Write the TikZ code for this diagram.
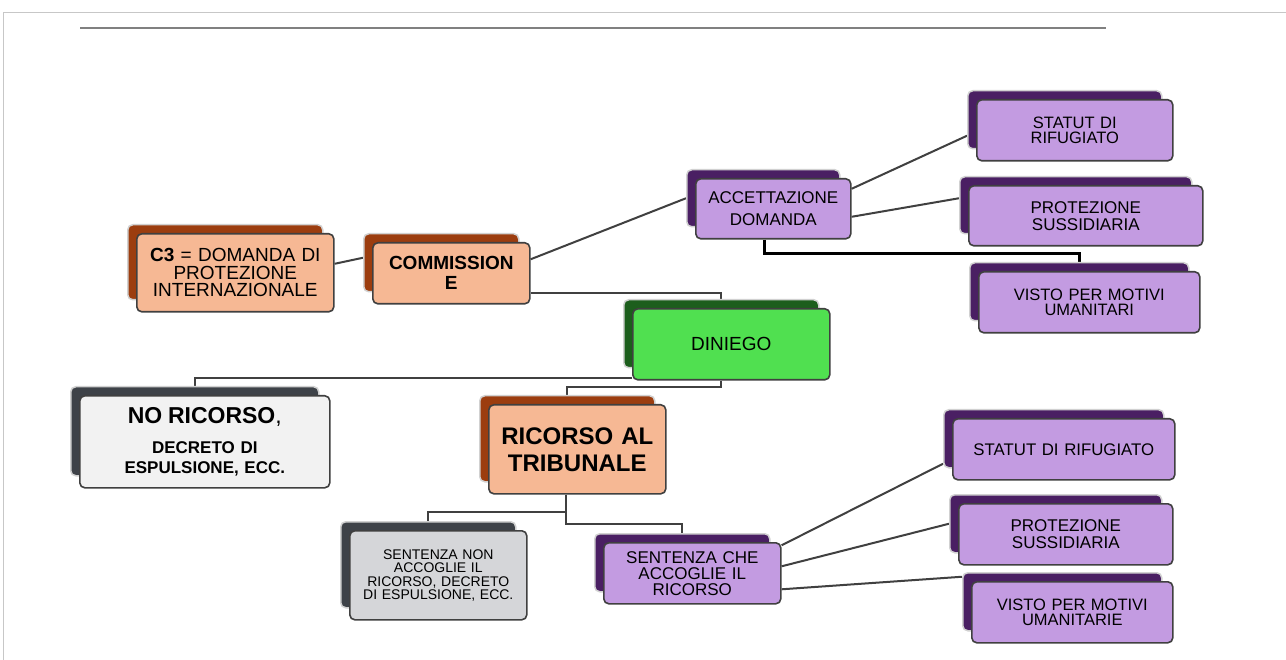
\documentclass[tikz,border=0pt]{standalone}
\usepackage{fontspec}
\setmainfont{Liberation Sans}
\usetikzlibrary{backgrounds,calc}
\definecolor{orB}{HTML}{9C3D0F}
\definecolor{orF}{HTML}{F6B894}
\definecolor{puB}{HTML}{4A1F63}
\definecolor{puF}{HTML}{C39BE1}
\definecolor{grB}{HTML}{1C5E1C}
\definecolor{grF}{HTML}{50E050}
\definecolor{gyB}{HTML}{3E4248}
\definecolor{gyF}{HTML}{F2F2F2}
\definecolor{gyFb}{HTML}{D5D6D9}
\definecolor{edgec}{HTML}{404040}
\tikzset{
 backbox/.style={rectangle, rounded corners=5pt, draw=black!18, line width=1.5pt, inner sep=0pt},
 frontbox/.style={rectangle, rounded corners=5pt, draw=edgec, line width=1.6pt, inner sep=2pt, align=center, text=black},
 conn/.style={draw=edgec, line width=2pt},
 thickconn/.style={draw=black, line width=3.5pt},
}
\newcommand{\dbox}[8]{%
 \pgfmathsetmacro{\dbw}{#4-#2}%
 \pgfmathsetmacro{\dbh}{#5-#3}%
 \pgfmathsetmacro{\dbbw}{#4-#2-2}%
 \pgfmathsetmacro{\dbbh}{#5-#3-3}%
 \pgfmathsetmacro{\dbtw}{#4-#2-10}%
 \node[backbox, fill=#6, minimum width=\dbbw pt, minimum height=\dbbh pt, anchor=north west] (#1b) at (#2-9,#3-9) {};
 \node[frontbox, #7, minimum width=\dbw pt, minimum height=\dbh pt, text width=\dbtw pt, anchor=north west] (#1) at (#2,#3) {#8};
}
\begin{document}
\begin{tikzpicture}[x=1pt,y=-1pt]
\useasboundingbox (0,0) rectangle (1286,660);
\draw[black!22, line width=1pt] (3,660) -- (3,13) -- (1286,13);
\draw[black!50, line width=2.5pt] (80,28) -- (1106,28);

\dbox{c3}{136}{233}{333}{311}{orB}{fill=orF, font=\fontsize{19}{17.5}\selectfont}{\textbf{C3} = DOMANDA DI\\PROTEZIONE\\INTERNAZIONALE}
\dbox{comm}{372}{242}{529}{303}{orB}{fill=orF, font=\bfseries\fontsize{19}{20}\selectfont}{COMMISSION\\E}
\dbox{acc}{695}{178}{850}{238}{puB}{fill=puF, font=\fontsize{17}{22}\selectfont}{ACCETTAZIONE\\DOMANDA}
\dbox{stat1}{976}{99}{1172}{160}{puB}{fill=puF, font=\fontsize{16.5}{15}\selectfont}{STATUT DI\\RIFUGIATO}
\dbox{prot1}{968}{185}{1202}{245}{puB}{fill=puF, font=\fontsize{17}{17}\selectfont}{PROTEZIONE\\SUSSIDIARIA}
\dbox{visto1}{978}{271}{1199}{332}{puB}{fill=puF, font=\fontsize{16.5}{15.5}\selectfont}{VISTO PER MOTIVI\\UMANITARI}
\dbox{din}{632}{308}{829}{379}{grB}{fill=grF, font=\fontsize{19}{20}\selectfont}{DINIEGO}
\dbox{no}{79}{395}{329}{487}{gyB}{fill=gyF, font=\bfseries\fontsize{17}{20}\selectfont}{{\fontsize{23}{20}\selectfont NO RICORSO\mdseries,}\\[10pt]DECRETO DI\\ESPULSIONE, ECC.}
\dbox{ric}{488}{404}{665}{493}{orB}{fill=orF, font=\bfseries\fontsize{24}{27}\selectfont}{RICORSO AL\\TRIBUNALE}
\dbox{sn}{349}{530}{526}{619}{gyB}{fill=gyFb, font=\fontsize{14}{13.5}\selectfont}{SENTENZA NON\\ACCOGLIE IL\\RICORSO, DECRETO\\DI ESPULSIONE, ECC.}
\dbox{sc}{603}{542}{780}{603}{puB}{fill=puF, font=\fontsize{17}{16}\selectfont}{SENTENZA CHE\\ACCOGLIE IL\\RICORSO}
\dbox{stat2}{952}{418}{1174}{479}{puB}{fill=puF, font=\fontsize{16.8}{16}\selectfont}{STATUT DI RIFUGIATO}
\dbox{prot2}{958}{503}{1172}{564}{puB}{fill=puF, font=\fontsize{17}{16.7}\selectfont}{PROTEZIONE\\SUSSIDIARIA}
\dbox{visto2}{971}{581}{1172}{642}{puB}{fill=puF, font=\fontsize{16.5}{15.7}\selectfont}{VISTO PER MOTIVI\\UMANITARIE}

\begin{scope}[on background layer]
\fill[white] (0,0) rectangle (1286,660);
\draw[conn] ([yshift=9pt]c3.east) -- ([yshift=5pt]commb.west);
\draw[conn] ([yshift=14pt]comm.east) -- (accb.west);
\draw[conn] ([yshift=-20pt]comm.east) -| (dinb.north);
\draw[conn] ([yshift=20pt]acc.east) -- ([yshift=-16pt]stat1b.west);
\draw[conn] ([yshift=-8pt]acc.east) -- ([yshift=7pt]prot1b.west);
\draw[thickconn] ([xshift=-9pt]acc.south) -- ++(0,14) -| (visto1b.north);
\draw[conn] ([yshift=3pt]din.south west) -| (nob.north);
\draw[conn] ([xshift=-10pt]din.south) -- ++(0,6) -| (ricb.north);
\draw[conn] ([xshift=-11pt]ric.south) -- ++(0,17) -| (snb.north);
\draw[conn] ([xshift=-11pt]ric.south) -- ++(0,29) -| (scb.north);
\draw[conn] ([yshift=28pt]sc.east) -- ([yshift=-25pt]stat2b.west);
\draw[conn] ([yshift=7pt]sc.east) -- (prot2b.west);
\draw[conn] ([yshift=-16pt]sc.east) -- ([yshift=25pt]visto2b.west);
\end{scope}
\end{tikzpicture}
\end{document}
